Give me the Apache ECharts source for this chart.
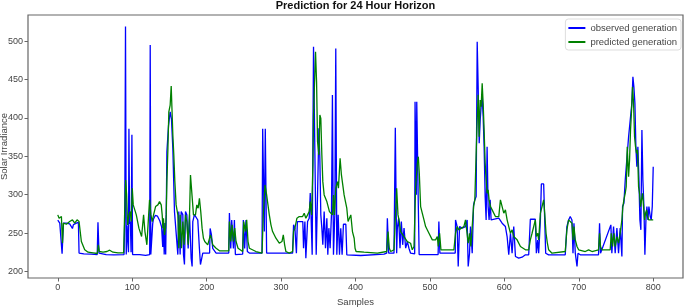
<!DOCTYPE html>
<html><head><meta charset="utf-8">
<script src="https://cdn.jsdelivr.net/npm/echarts@6/dist/echarts.min.js"></script>
<style>html,body{margin:0;padding:0;background:#fff}#c{width:685px;height:308px}</style>
</head><body><div id="c"></div>
<script>
const titleText = "Prediction for 24 Hour Horizon";
const xTicks = [0,100,200,300,400,500,600,700,800];
const yTicks = [200,250,300,350,400,450,500];
const seriesNames = ["observed generation","predicted generation"];

const obsX = [0,2.7,4.9,5.8,6.7,7.6,11.6,16,19.7,21,25,27.7,28.6,35,45,53,54,55.4,65,75,89,90,91,92,93,94,95,95.6,96.5,97.5,98.5,99.6,100.5,110,118,123.5,124.2,125,126.5,127.5,128.5,131,134,137,139.5,141,142,143,144,145,146,146.6,148.8,151,152.8,154.6,156.8,159,161.3,162.6,164.4,165.8,168,168.9,170.2,171.6,173.4,175.2,177,179.2,180.5,181.4,183.6,185.9,188.1,190.3,191.7,193.9,194.8,204,204.7,206.4,208.2,212.7,229.7,230.6,232.4,233.7,236,237.3,238.6,248.4,249.3,251.1,252.9,254.7,257.4,274.4,275.3,277.5,278.8,280.6,304.3,315.5,316.8,318.6,320.6,321.9,329.2,330.2,332,333.3,334.7,335.6,337.8,339.2,340,341.8,343.6,345.8,347.2,349,350.8,352.1,353.4,354.8,356.1,357.9,359.7,361.5,362.8,364.2,365.9,367.7,369,370.4,372.2,373.5,374.9,376.7,378.5,380.2,382,383.8,387,388.3,407,438.3,441.9,442.8,444.6,451.7,453.5,455.3,456.2,458,459.8,461.6,463.4,465.2,467.4,469.6,471.8,474,479.5,480,481.3,481.8,482.3,484,484.5,485.5,511,512,513.4,534,534.4,536.6,538,539.8,543.3,547.8,550,551.4,553.2,554.5,556.8,558.6,560.3,562.1,563.5,564.8,566.2,567.5,568.8,570.2,571.5,572.8,574.2,575.5,576.8,578.2,579.5,580.9,582.2,583.6,592.5,597,601.4,603.7,605.9,608.2,610.4,612.6,614.9,619.3,623.8,628.3,632.7,634.9,641.6,643,644.8,646.1,648.4,649.7,652.8,654.2,655.5,659.5,681.8,684,686.3,688.5,690.8,692.2,693.5,695.3,697.6,698.9,702,726.5,727.9,729.2,731,743.1,744.4,746.7,748.9,751.2,753.4,755.6,757.9,758.8,760.6,762.4,764.6,766.9,769.1,771.3,772.7,774,775.4,776.7,778,779.4,780.7,782.1,783.4,784.8,786.1,787.5,788.8,790.2,791.5,792.9,794.2,796,797.3,798.7,800];
const obsY = [267,263,263,223,223,263,263,262,256,261,263,264,224,223,222.5,222,264,224,222,221.5,222,270,519,222,260,262,225,386,262,265,225,378,222,222,221,222,495,222,222,262,268,273,272,266,258,232,263,222,263,222,300,356,390,408,398,360,278,278,222,278,222,278,274,222,209,278,274,230,274,217,206.5,265,274,271.5,267,230,209,209,224,224,256,248,230,224,224,276,230,267,230,267,222,222.5,267,230,267,226,224,224,386,252,386,224,224,223.8,260.7,256.4,223.8,265,265,230.3,265,217.3,215,265,269.4,302,282.4,221.7,492.6,492.6,221.7,299.7,386.4,347.4,273.7,256.4,234.7,278,230.3,269.4,221.7,256.4,230.3,273.7,429.7,221.7,273.7,490.4,221.7,273.7,221.7,256.4,221.7,261.5,261.5,221.7,220.8,222.5,223.8,269.4,223.8,223.8,387.3,223.8,256.4,269.4,230.3,265,234.7,256.4,230.3,239,230.3,223.8,223,421,421,300,421,421,280,222,222,265,223.8,224,267,258.5,206.5,258.5,256.4,258.5,267,206.5,223.8,258.5,223.8,286.7,293.2,297.5,499,440.6,366.9,397.2,414.6,427.6,401.6,362.5,297.5,267.2,362.5,284.5,267.2,293.2,267.2,269.4,269.4,262.9,258.5,245.5,221.7,249.8,223.8,258.5,219.5,217.3,218.6,221.7,221.7,268,268,223.8,241,223.8,267.2,314,314,267.2,223.8,221.7,221.7,258.5,267,271.5,267,223.8,262.9,223.8,206.5,223.8,221.7,221.7,262.9,223.8,221.7,260.7,223.8,258.5,223.8,256.4,223.8,256.4,219.5,284.5,288.9,319.2,319.2,375.5,397.2,418.9,453.6,440.6,418.9,362.5,336.5,362.5,323.5,267.2,254.2,384.2,319.2,284.5,221.7,267.2,284.5,267.2,284.5,271.5,267.2,284.5,336.5];

const predX = [0,1.8,4.9,6.3,7.6,11.6,16,19.7,22.8,25.9,28.6,31.7,36.2,40.7,47.4,53.2,54.5,55.9,60.8,66.1,69.7,74.2,80.9,88.5,89.8,91.2,92.5,93.8,95.6,97.4,98.7,100.1,101.4,103.7,105.5,109,112.6,115.3,117.1,119.7,121.5,123.3,125.1,126.9,128.7,131.4,134.5,136.7,139,140.3,141.2,142,143.4,144.8,145.7,146.6,148,149.2,151,152.4,153.7,154.6,155.9,157.3,159,161.3,162.6,164.4,166.2,168,169.8,171.6,173.4,175.2,177,178.3,179.7,181,182.3,185,186.8,188.6,190.3,192.1,193.9,195.7,197.5,201.5,203.8,205.1,206.4,208.2,212.7,217.2,229.7,230.6,232.4,234.2,236,237.7,239.5,242.2,248.4,249.8,252,253.8,255.6,257.4,266.2,274.4,276.1,278.4,280.6,282.4,284.2,286.4,288.6,293.1,297.6,301.2,303,304.8,306.5,311,315.5,316.8,318.6,321.3,324.4,328.9,331.1,333.3,335.6,337.8,339.2,341,342.8,343.6,345,346.3,347.7,349,350.8,352.1,353.4,354.8,356.1,357.9,361.5,365,369,370.4,371.7,373.5,375.8,377.1,379.3,381.1,382.9,384.7,386.5,388.3,390,391.8,393.7,395.9,398.2,399.4,400.8,411.5,429.4,441.9,443.7,445.4,447.2,451.7,453.5,455.3,457.1,458.9,460.7,465.2,469.6,474,476.3,478.6,480.8,483.1,484.4,485.7,487.5,489.7,492,494.2,498.7,503.2,507.6,509.9,511.2,513,514.8,521,532.2,534.4,536.6,538.9,541.1,545.6,547.8,550,551.4,553.2,555,556.8,558.6,560.3,562.1,563.5,564.8,566.2,567.5,568.8,570.2,571.5,572.8,574.2,575.5,576.8,578.2,579.5,581.3,583.6,588,592.5,594.7,597,599.2,601.4,603.7,605.9,608.2,610.4,612.6,617.1,621.6,628.3,632.7,634.9,637.2,639.4,641.6,643,644.8,646.1,648.4,650.6,652.8,654.2,656,657.8,659.5,664,681.8,684,686.3,688.5,690.8,692.2,693.5,695.3,697.6,699.8,708.7,713.2,717.7,726.5,727.9,729.2,731,742.2,743.6,745.4,747.2,748.9,751.2,753.4,755.6,757.9,759.2,760.6,762.4,763.7,765.1,766.9,768.2,769.5,770.9,772.2,773.6,774.9,776.2,777.6,778.9,780.3,781.6,783,784.3,785.7,787,788.4,789.7,791.1,792.4,793.8,800];
const predY = [273.7,269.4,271.5,236.8,262.9,261.5,265,267.2,262.9,267.2,265,239,228.2,225.1,224.3,223.4,234.7,226,225.1,226,227.7,225.1,224.3,224.3,273.7,319.2,299.7,260.7,273.7,278,265,308.4,286.7,286.7,273.7,256.4,245.5,273.7,252,234.7,232.5,293.2,273.7,265,273.7,284.5,286.7,291,286.7,273.7,256.4,269.4,247.7,256.4,273.7,317,360.4,408,416.7,441.4,403.7,377.7,351.7,317,286.7,273.7,230.3,273.7,230.3,265,234.7,273.7,265,234.7,273.7,325.7,326.6,291,273.7,273.7,286.7,282.4,295.4,278,256.4,243.3,239,234.7,234.7,247.7,243.3,234.7,230.3,226.9,226.9,265,239,260.7,239,256.4,239,230.3,226,265,252,267.2,239,230.3,226,223.8,273.7,312.7,299.7,286.7,273.7,260.7,252,243.3,236.8,239,247.7,234.7,226,223.8,226,252,256.4,269.4,271.5,271.5,275.9,269.4,273.7,278,291,273.7,338.7,403.7,447,486,447,369,351.7,403.7,399.4,351.7,317,299.7,291,278,273.7,299.7,273.7,308.4,317,308.4,347.4,325.7,312.7,299.7,291,282.4,265,265,273.7,252,243.3,230.3,226,225.1,223.8,226,252,230.3,226,228.2,269.4,308.4,273.7,265,252,245.5,239,236.8,228.2,232.5,310.5,340.9,349.5,327.9,284.5,275.9,267.2,258.5,249.8,241.2,241.2,245.5,232.5,249.8,228.2,228.2,228.2,249.8,258.5,254.2,256.4,258.5,267.2,267.2,236.8,249.8,232.5,258.5,284.5,293.2,353.9,397.2,430,375.5,423.2,414.6,445,418.9,384.2,340.9,319.2,301.9,306.2,293.2,284.5,280.2,271.5,271.5,293.2,284.5,275.9,280.2,267.2,258.5,249.8,254.2,245.5,241.2,232.5,228.2,228.2,241.2,249.8,258.5,267.2,245.5,249.8,241.2,275.9,284.5,293.2,275.9,249.8,236.8,228.2,223.8,226,254.2,267.2,267.2,262.9,241.2,258.5,241.2,232.5,228.2,226,228.2,226,228.2,249.8,232.5,228.2,228.2,249.8,232.5,249.8,232.5,245.5,236.8,249.8,267.2,284.5,293.2,301.9,310.5,362.5,323.5,345.2,384.2,410.2,440.6,418.9,375.5,362.5,353.9,358.2,310.5,301.9,284.5,293.2,301.9,284.5,267.2,275.9,280.2,271.5,267.2,267.2];

function pairs(xs, ys){ return xs.map((x,i)=>[x, ys[i]]); }

const font = "'Liberation Sans Narrow','Liberation Sans',sans-serif";
const chart = echarts.init(document.getElementById('c'), null, {renderer:'canvas'});
chart.setOption({
  animation:false,
  backgroundColor:'#ffffff',
  title:{text:titleText, left:355.5, textAlign:'center', top:0, padding:0,
    textStyle:{fontSize:11, fontWeight:'bold', color:'#111', fontFamily:font}},
  grid:{left:28, right:2, top:15, bottom:30, show:true, borderColor:'#666', borderWidth:1.2, backgroundColor:'#fff',
    containLabel:false, outerBoundsMode:'none'},
  legend:{orient:'vertical', right:4, top:19, data:seriesNames, icon:'rect', itemWidth:17, itemHeight:2,
    itemGap:4, padding:[4,4,3,3], borderColor:'#ddd', borderWidth:1, borderRadius:3, backgroundColor:'#fff',
    textStyle:{fontSize:9.5, color:'#444', fontFamily:font}},
  xAxis:{type:'value', min:-40, max:840, name:'Samples', nameLocation:'middle', nameGap:19, nameMoveOverlap:false,
    nameTextStyle:{fontSize:9.5, color:'#444', fontFamily:font},
    axisLine:{show:false, onZero:false}, splitLine:{show:false},
    axisTick:{show:true, length:3.5, customValues:xTicks, lineStyle:{color:'#666'}},
    axisLabel:{customValues:xTicks, fontSize:9, color:'#444', margin:5, fontFamily:font}},
  yAxis:{type:'value', min:191.5, max:534, name:'Solar Irradiance', nameLocation:'middle', nameGap:19, nameMoveOverlap:false,
    nameRotate:90,
    nameTextStyle:{fontSize:9.5, color:'#444', fontFamily:font},
    axisLine:{show:false, onZero:false}, splitLine:{show:false},
    axisTick:{show:true, length:3.5, customValues:yTicks, lineStyle:{color:'#666'}},
    axisLabel:{customValues:yTicks, fontSize:9, color:'#444', margin:5, fontFamily:font}},
  series:[
    {name:seriesNames[0], type:'line', data:pairs(obsX, obsY), showSymbol:false, symbol:'none',
      lineStyle:{color:'#0000ff', width:1.3}, itemStyle:{color:'#0000ff'}, z:2},
    {name:seriesNames[1], type:'line', data:pairs(predX, predY), showSymbol:false, symbol:'none',
      lineStyle:{color:'#008000', width:1.3}, itemStyle:{color:'#008000'}, z:3}
  ]
});
</script></body></html>
